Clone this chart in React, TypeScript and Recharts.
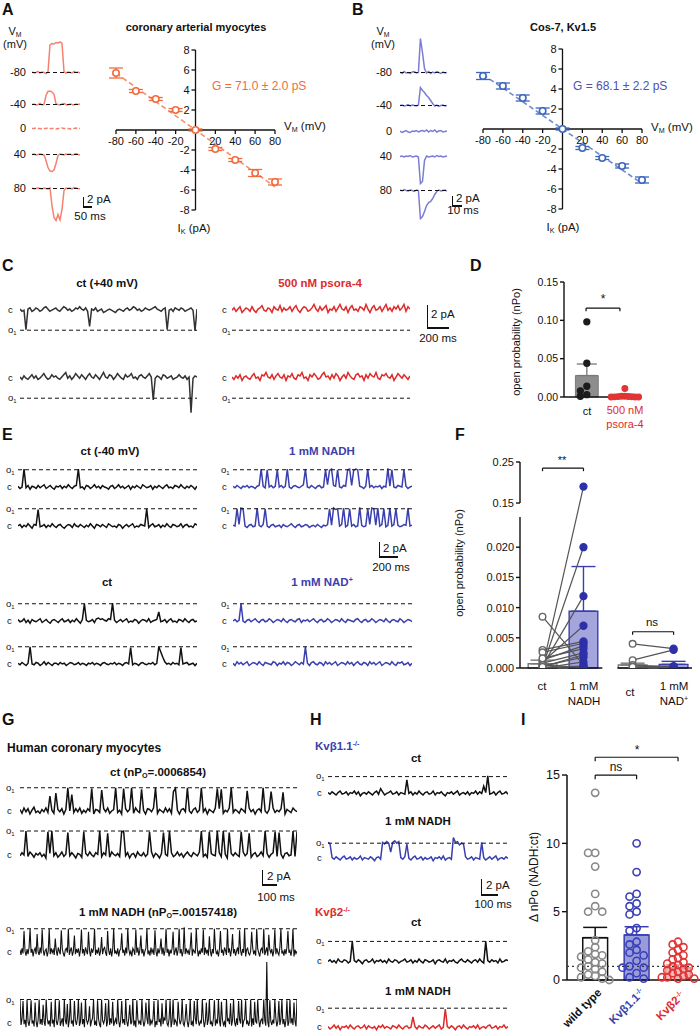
import React from 'react';
import {
  LineChart, Line, ScatterChart, Scatter, ComposedChart, XAxis, YAxis,
  ReferenceLine, ReferenceArea, ErrorBar,
} from 'recharts';

const FONT = '"Liberation Sans", Arial, Helvetica, sans-serif';

// ---------- A / B : unitary I-V relations ----------
const ivVolts = [-80, -60, -40, -20, 0, 20, 40, 60, 80];
const ivCoronary = [5.7, 3.9, 3.1, 2.0, 0, -1.9, -3.0, -4.3, -5.2];
const ivCoronaryErr = [0.5, 0.15, 0.15, 0.15, 0.1, 0.15, 0.15, 0.35, 0.3];
const ivCos7 = [5.3, 4.3, 3.1, 1.8, 0, -1.9, -2.9, -3.7, -5.1];
const ivCos7Err = [0.35, 0.3, 0.3, 0.3, 0.1, 0.15, 0.15, 0.2, 0.3];
const gCoronary = 71.0;
const gCos7 = 68.1;
const ivXTicks = [-80, -60, -40, -20, 20, 40, 60, 80];
const ivYTicks = [8, 6, 4, 2, -2, -4, -6, -8];
const stepLabels = ['-80', '-40', '0', '40', '80'];

// single channel records, values in 0.1 pA
const aM80 = [1,-1,0,2,-1,1,0,-2,1,55,58,57,60,59,61,58,2,-1,1,0,-1,2,0,1,-1];
const aM40 = [0,1,-1,0,2,-1,0,18,26,27,25,21,1,0,-1,1,2,0,-1,1,0,-1,1,0,1];
const a0 = [0,0,1,0,0,-1,0,0,1,0,0,0,-1,0,0,1,0,0,0,-1,0,0,1,0,0];
const a40 = [0,1,-1,0,1,0,-1,-12,-26,-33,-34,-31,-18,-2,1,0,-1,1,0,1,-1,0,2,0,-1];
const a80 = [1,-1,0,1,0,-1,1,0,-1,1,-35,-58,-64,-52,-63,-42,-4,1,0,1,-1,2,1,0,-1];

const bM80 = [1,-2,2,-1,0,-2,1,2,-1,0,68,40,8,-1,2,-2,1,-1,2,0,-2,1,-1,0];
const bM40 = [0,1,-1,0,2,-1,1,0,-1,1,36,30,26,20,16,10,4,-1,1,-2,0,1,-1,0];
const b0 = [1,-2,0,2,-1,-2,1,0,2,-1,1,2,0,3,-1,2,0,3,-1,1,2,-1,0,1];
const b40 = [0,1,-1,1,0,2,-1,0,1,-1,-54,-50,-8,1,-1,0,1,-1,2,0,1,-1,0,1];
const b80 = [1,-1,2,0,-1,1,0,-2,1,0,-56,-52,-42,-30,-24,-22,-16,-8,-2,1,-1,0,1,-1];

// C
const cCt1 = [
  1,-1,0,-17,1,2,-1,0,2,1, -1,0,2,3,1,-1,0,1,2,0, -1,1,3,2,0,1,-1,0,2,1,
  3,1,0,2,-1,-14,1,0,2,-1, 0,1,-2,-1,0,1,0,-1,-2,0, 1,0,-1,1,2,0,1,3,2,0,
  1,-1,0,2,1,0,1,2,3,1, 0,-1,1,2,-17,0,1,-1,2,1, 0,2,1,-1,0,1,2,0,-18,1,
];
const cCt2 = [
  1,-1,2,0,-1,1,3,0,2,-1, 0,2,4,1,-1,0,3,1,2,0, -1,1,3,5,0,2,-1,1,4,2,
  0,3,1,-1,2,4,1,0,3,1, -1,2,5,1,0,3,2,-1,1,4, 2,0,-1,3,1,2,4,0,1,-1,
  2,3,1,0,2,4,1,-19,0,2, 1,-1,3,2,0,1,2,-1,0,1, 3,1,0,2,-1,1,-30,0,2,1,
];
const cPs1 = [
  0,2,-1,1,3,-2,0,2,1,-1, 3,0,-2,1,2,4,0,-1,2,1, -2,3,1,0,4,-1,2,0,1,3,
  -1,2,4,0,-2,1,3,2,-1,0, 2,5,1,-1,3,0,2,4,-2,1, 0,3,-1,2,5,1,0,3,-2,2,
  4,0,1,-1,3,2,0,5,1,-2, 2,4,0,1,3,-1,2,5,0,2, -1,3,1,4,0,2,5,-1,3,1,
];
const cPs2 = [
  1,-1,2,0,3,-2,1,2,0,-1, 2,4,0,1,-2,3,2,5,1,0, 3,-1,2,4,1,0,3,-2,2,1,
  4,0,-1,3,2,5,0,1,-2,3, 1,4,2,-1,0,3,5,1,2,-1, 3,0,4,2,-2,1,3,0,5,2,
  0,-1,3,4,1,2,-2,3,0,4, 2,1,5,0,-1,3,2,4,1,0, 3,-2,1,4,2,0,3,1,-1,2,
];

// E
const eCt1 = [
  1,-2,0,24,-1,2,-3,1,0,-2, 2,-1,1,3,-2,0,2,-1,-3,1, 0,2,-2,1,-1,3,0,-2,1,2,
  24,-1,0,-3,2,1,-2,0,3,-1, 1,-2,2,0,-1,-3,1,2,-2,0, 3,-1,1,-2,0,2,-3,1,-1,2,
  0,-2,3,1,-1,0,2,-3,1,-1, 2,0,-2,1,3,-1,0,-2,2,1, -1,3,0,-2,1,-1,2,0,-3,1,
];
const eCt2 = [
  0,2,-2,1,-1,3,0,-3,2,1, 22,-1,0,2,-2,1,-1,3,0,-2, 1,2,-1,-3,0,2,1,-2,3,0,
  -1,2,0,-2,1,-1,3,0,-3,2, 1,-1,2,0,-2,3,1,-1,0,-2, 2,1,-3,0,2,-1,1,3,-2,0,
  -1,2,1,0,23,-2,1,3,-1,0, 2,-2,1,-1,3,0,-2,2,1,-1, 0,3,-2,1,2,-1,0,-2,3,1,
];
const eNadh1 = [
  1,-1,2,0,-2,1,0,2,-1,1, 0,-2,1,2,24,1,-1,23,0,2, -1,1,23,0,2,-1,1,24,0,-2,
  1,2,0,-1,1,3,24,0,-1,2, 0,-2,1,2,-1,0,23,3,22,24, 2,1,23,0,-1,2,1,23,24,2,
  22,24,23,1,0,-2,1,24,0,2, -1,1,0,2,-2,1,0,25,1,23, 0,-1,2,1,0,23,1,-2,0,1,
];
const eNadh2 = [
  1,0,23,2,24,23,0,-2,1,2, -1,0,24,1,-1,2,23,0,-2,1, 2,-1,0,1,-2,2,0,-1,1,3,
  0,-2,1,2,-1,0,2,1,-2,0, 1,-1,2,0,-2,1,0,2,23,1, 24,22,23,0,2,24,-1,1,23,0,
  2,-1,0,25,1,-1,0,23,2,24, 23,1,24,0,2,23,-1,1,24,0, 2,23,1,-1,0,2,1,24,0,1,
];
const eCt3 = [
  2,-1,0,3,-2,1,-3,2,0,-1, 1,3,-2,0,2,-1,-3,1,2,0, -2,1,3,-1,0,2,-2,1,-1,3,
  0,-3,2,23,1,-1,0,2,-2,3, 4,2,3,1,0,3,2,24,1,-2, 0,2,-1,1,3,-2,0,-1,2,1,
  -3,0,2,1,-1,3,-2,0,1,2, 12,-1,0,2,-2,1,3,-1,0,-2, 2,1,-1,3,0,-2,1,2,-1,0,
];
const eCt4 = [
  1,-1,2,0,-2,1,23,0,-1,2, 1,-2,0,3,-1,2,0,-2,1,1, -1,2,0,1,-2,0,2,1,-1,0,
  2,-1,1,0,-2,1,0,2,-1,1, 0,-2,1,2,0,-1,1,0,2,-1, 1,0,-2,1,2,0,22,-1,1,0,
  -2,1,2,0,-1,1,0,2,-1,1, 23,16,9,3,0,1,-1,2,0,1, -1,22,0,1,2,-1,0,1,-2,1,
];
const eNad1 = [
  0,2,-1,1,23,0,-2,1,2,-1, 1,3,0,-2,1,2,-1,0,3,1, -2,0,2,1,-1,3,0,-2,1,2,
  0,-1,2,3,-2,1,0,2,-1,1, 3,0,-2,1,2,-1,0,3,1,-2, 0,2,1,-1,3,0,-2,2,1,0,
  -1,2,3,0,-2,1,2,-1,0,3, 1,-2,0,2,1,-1,3,0,-2,1, 2,0,-1,3,1,-2,0,2,1,-1,
];
const eNad2 = [
  1,-2,3,0,2,-1,1,3,-2,0, 2,1,-1,3,0,-2,2,1,0,-1, 3,2,-2,1,0,3,-1,2,1,-2,
  0,3,1,-1,2,0,23,1,-2,2, 3,0,-1,2,1,-2,3,0,2,-1, 1,3,-2,0,2,1,-1,3,0,2,
  -2,1,3,0,-1,2,1,-2,3,0, 2,-1,1,3,-2,0,2,1,-1,3, 0,-2,2,1,3,-1,0,2,-2,1,
];

// G
const gCt1 = [
  2,-3,4,-1,3,-4,1,5,-2,0, -3,2,-1,4,-2,20,1,-3,24,2, -1,3,-4,2,31,0,22,-2,3,-1,
  4,-3,1,-2,3,0,30,-4,2,1, -2,28,3,-1,4,-3,0,2,31,-2, 1,-4,30,3,-1,2,31,-3,4,0,
  -2,29,1,-4,3,2,-1,4,31,-3, 2,0,-2,4,-1,3,-3,26,30,1, -4,2,3,-1,31,0,-3,2,4,-2,
  1,31,-1,3,-4,2,0,-2,4,30, 3,29,-3,1,-1,4,31,-2,2,0, -3,3,1,-2,27,4,-1,2,-4,1,
  3,-1,31,0,-3,2,26,4,-2,1, -1,3,25,-4,2,0,-2,4,1,-1,
];
const gCt2 = [
  -1,3,0,32,-2,4,1,-3,2,0, 3,-2,1,-4,31,2,32,-1,3,-3, 0,4,-2,1,30,-1,3,0,-4,2,
  1,-3,31,2,-1,4,0,-2,3,1, 32,-2,3,0,29,-3,4,1,-1,2, -2,31,32,-1,3,-4,1,2,-3,4,
  0,-1,3,-2,1,31,4,-3,2,0, -4,2,30,1,-1,32,3,-2,0,4, -1,2,-3,1,4,0,-2,3,1,-1,
  4,32,-2,1,-3,31,2,0,-1,32, 3,-2,32,1,-4,30,2,-1,3,0, -2,31,4,-1,2,29,-3,1,3,-2,
  0,4,-1,32,2,-3,1,3,31,-2, 30,1,-4,2,3,-1,0,32,-2,31,
];
// NADH records sampled twice as finely
const gNadh1 = [
  3,-4,5,-2,28,1,-5,4,-3,6,31,-1, 4,-6,2,5,-3,24,0,-4,6,-2,30,3,
  -5,2,4,-6,1,31,-3,5,-1,3,-4,18, 2,-5,6,1,-3,29,4,-2,-6,3,5,-1,
  31,-4,2,6,-5,1,22,-3,4,-1,5,-6, 3,30,-2,4,-5,6,1,-3,27,2,-6,5,
  -1,4,31,-4,3,-2,6,-5,1,20,-3,4, 6,-1,-5,28,2,-4,5,-6,3,31,-2,1,
  -3,5,-6,2,4,25,-1,3,-5,6,-2,31, 4,-3,1,-6,5,2,-4,30,-1,6,-5,3,
  22,-2,4,-6,1,5,31,-3,2,-5,6,-1, 3,-4,29,1,-6,5,-2,4,18,-3,6,-5,
  2,31,-1,4,-6,3,-2,5,27,-4,1,6, -5,3,31,-2,4,-6,1,33,-3,5,-1,2,
  -4,6,26,-5,3,1,-2,31,4,-6,2,-3, 5,-1,30,-4,6,-2,3,-5,21,1,-6,4,
  -2,31,5,-3,1,-6,4,28,-1,3,-5,6, 2,-4,31,-1,5,-6,3,24,-2,4,-5,1,
  6,-3,29,2,-5,4,-1,31,-6,3,5,-2, -4,1,27,6,-3,2,-5,31,4,-1,-6,3,
  5,-2,31,-4,1,6,-5,23,3,-1,4,-6, 2,30,-3,5,-1,-4,6,31,-2,1,-5,4,
  -3,6,28,-1,2,-5,4,31,-6,3,-2,1,
];
const gNadh2 = [
  31,-3,5,29,-2,4,-6,31,1,-4,6,30, -1,3,-5,27,2,-6,4,31,-2,5,-3,24,
  1,-4,31,6,-2,3,-5,28,-1,4,-6,31, 2,-3,5,30,-4,1,6,-5,31,3,-2,25,
  -6,4,31,-1,2,-5,29,3,-3,6,31,-4, 1,27,-2,5,-6,31,4,-1,3,22,-5,2,
  6,31,-3,1,-4,30,5,-2,-6,31,3,-1, 4,26,-5,2,31,-3,6,-1,28,-4,1,5,
  -2,31,3,-6,4,29,-1,5,-3,31,2,-5, 6,24,-2,1,31,-4,3,-6,30,5,-1,2,
  -3,31,4,-5,1,27,6,-2,31,-4,3,-1, 5,29,-6,2,-3,31,1,4,-5,26,-2,6,
  3,31,-1,-4,5,30,-6,2,31,-3,4,1, -5,28,6,-2,3,31,-1,-4,5,25,2,-6,
  4,31,-3,1,-5,29,6,-2,31,3,-4,2, -1,31,5,-6,2,27,-3,4,31,-2,1,-5,
  6,30,-4,3,-1,31,2,-5,28,4,-3,1, -6,31,2,5,-2,26,-4,3,31,1,-5,6,
  -3,29,4,-1,31,-6,2,5,30,-2,3,-4, 1,31,-5,6,-3,28,2,-1,31,4,-6,3,
  5,-2,31,3,-4,81,1,-6,30,2,-3,4, -1,31,6,-5,2,29,-3,4,31,-2,5,-6,
  3,30,-4,1,31,-1,6,-3,27,2,-5,31,
];

// H
const hKv11Ct = [
  1,-1,2,0,-2,1,3,-1,0,2, -2,1,0,3,-1,2,-3,0,1,-1, 2,0,-2,1,3,-1,6,2,-2,0,
  1,3,-1,0,2,-2,1,0,-1,17, 0,2,-2,1,-1,3,0,-2,1,2, -1,0,3,-2,1,0,2,-1,-3,1,
  0,2,-1,1,3,-2,0,1,-1,2, -2,1,0,3,-1,2,0,9,1,22, -1,0,2,-2,1,3,-1,0,2,-1,
];
const hKv11Nadh = [
  20,18,1,-1,2,0,-2,1,3,-1, 0,2,-2,1,-1,0,3,-2,1,0, -1,2,0,-3,1,2,-1,20,18,21,
  19,8,20,22,19,21,1,-1,2,18, 0,-2,1,3,-1,0,2,-2,1,-1, 0,2,-3,1,0,2,-1,3,-2,0,
  1,-1,26,20,21,17,19,18,2,-1, 0,2,-2,1,0,-1,20,1,-2,0, 2,-1,1,3,-2,0,1,-1,2,0,
];
const hKv2Ct = [
  0,2,-1,1,-2,3,0,-1,2,1, -2,0,25,1,-1,2,0,-3,1,2, -1,0,3,-2,1,0,2,-1,1,-2,
  3,0,-1,2,1,-2,0,1,3,-1, 0,2,-2,1,-1,3,0,-2,2,1, -1,0,2,-3,1,2,0,-1,3,-2,
  1,0,2,-1,-2,1,3,0,-1,2, 0,-2,1,2,-1,3,0,-2,25,1, -1,2,0,1,-2,3,-1,0,2,1,
];
const hKv2Nadh = [
  1,-2,0,3,-1,2,-3,1,0,2, -1,3,0,-2,1,2,-1,0,3,-2, 2,0,-1,1,-3,2,0,3,-1,1,
  0,-2,2,1,-1,3,0,-2,1,2, -1,0,13,1,-2,2,0,-1,3,1, -2,0,2,-1,1,3,-2,0,23,1,
  -1,2,0,-3,1,2,-1,3,0,-2, 1,0,2,-1,3,-2,0,1,-1,2, 3,-1,0,2,-2,1,0,3,-1,1,
];

// D : open probability, psora-4
const dMeans = [0.028, 0.001];
const dSem = [0.015, 0.0005];
const dCt = [0.098, 0.044, 0.014, 0.008, 0.003, 0.001];
const dPsora = [0.011, 0.001, 0.001, 0.0007, 0.0005, 0.0003, 0.0002, 0, 0, 0];
const dTicks = [0, 0.05, 0.1, 0.15];

// F : paired open probability
const fNadhCt = [0.0001, 0.0002, 0.0004, 0.001, 0.003, 0.0026, 0.0013, 0.0008, 0.0003, 0, 0.0085, 0.0001, 0.0005, 0, 0.0016, 0.0002];
const fNadh = [0.19, 0.02, 0.0119, 0.007, 0.0044, 0.0041, 0.0037, 0.0025, 0.0018, 0.001, 0.0005, 0.0003, 0.0001, 0, 0.0032, 0.0022];
const fNadCt = [0.004, 0.0013, 0.0005, 0, 0.0001, 0.0002];
const fNad = [0.0032, 0.003, 0.0002, 0, 0.0001, 0.0003];
const fMeans = [0.0007, 0.0094, 0.0005, 0.0006];
const fSem = [0.0006, 0.0074, 0.0003, 0.0005];
const fTicks = [0, 0.005, 0.01, 0.015, 0.02, 0.025, 0.15, 0.25];

// I : fold change NADH:ct
const iWt = [13.7, 9.3, 9.3, 8.3, 6.3, 5.4, 5.0, 5.0, 2.9, 2.4, 2.1, 1.9, 1.8, 1.7, 1.5, 1.3, 1.2, 1.0, 0.9, 0.8, 0.6, 0.4, 0.3, 0.2, 0.1, 0.0];
const iKv11 = [10.0, 7.9, 6.3, 6.1, 5.6, 5.4, 5.0, 4.8, 3.8, 3.6, 2.8, 2.6, 2.2, 2.0, 1.8, 1.4, 1.0, 0.9, 0.9, 0.5, 0.2, 0.1];
const iKv2 = [2.8, 2.6, 2.4, 2.2, 2.0, 1.8, 1.6, 1.5, 1.3, 1.2, 1.1, 1.0, 0.9, 0.8, 0.7, 0.6, 0.5, 0.4, 0.3, 0.2, 0.2, 0.1, 0.1];
const iMeans = [3.1, 3.3, 0.9];
const iSem = [0.75, 0.6, 0.2];
const iTicks = [0, 5, 10, 15];

const ORANGE = '#f26b3d';
const SALMON = '#f5826f';
const BLUE = '#3a3fae';
const IVBLUE = '#3d66bd';
const LAVENDER = '#7b7dd2';
const RED = '#dd2b2b';

// greedy beeswarm placement for dot plots
function swarm(vals: number[], center: number, step: number, thr: number) {
  const slots = [0, -1, 1, -2, 2, -3, 3, -4, 4, -5, 5];
  const placed: { x: number; y: number; s: number }[] = [];
  vals.forEach((v) => {
    const s = slots.find((o) => !placed.some((p) => p.s === o && Math.abs(p.y - v) < thr)) ?? 0;
    placed.push({ x: center + s * step, y: v, s });
  });
  return placed;
}

const Sub = ({ children }: any) => (
  <span style={{ fontSize: '0.62em', position: 'relative', top: '0.35em' }}>{children}</span>
);
const Sup = ({ children }: any) => (
  <span style={{ fontSize: '0.62em', position: 'relative', top: '-0.5em' }}>{children}</span>
);

function T({ x, y, s = 11, b = false, c = '#111', a = 'l', children }: any) {
  const tx = a === 'c' ? '-50%' : a === 'r' ? '-100%' : '0';
  return (
    <div style={{ position: 'absolute', left: x, top: y, transform: `translate(${tx}, -50%)`, fontSize: s, fontWeight: b ? 700 : 400, color: c, whiteSpace: 'nowrap', lineHeight: 1 }}>
      {children}
    </div>
  );
}

function VLabel({ x, y, s = 11, children }: any) {
  return (
    <div style={{ position: 'absolute', left: x, top: y, transform: 'translate(-50%, -50%) rotate(-90deg)', fontSize: s, whiteSpace: 'nowrap', lineHeight: 1 }}>
      {children}
    </div>
  );
}

function ScaleBar({ x, y, h, w }: any) {
  return (
    <>
      <div style={{ position: 'absolute', left: x, top: y - h, width: 1.3, height: h, background: '#111' }} />
      <div style={{ position: 'absolute', left: x, top: y - 0.6, width: w, height: 1.3, background: '#111' }} />
    </>
  );
}

const O1 = ({ x, y }: any) => <T x={x} y={y} s={9.5}>o<Sub>1</Sub></T>;
const C = ({ x, y }: any) => <T x={x} y={y} s={9.5}>c</T>;

function Trace({ data, x, cy, w, k, lo, hi, color, open, sw = 1.2, dash, openColor = '#111' }: any) {
  const rows = data.map((v: number, i: number) => ({ i, v }));
  return (
    <div style={{ position: 'absolute', left: x, top: cy - hi * k }}>
      <LineChart width={w} height={(hi - lo) * k} data={rows} margin={{ top: 0, right: 0, bottom: 0, left: 0 }}>
        <XAxis dataKey="i" type="number" domain={[0, data.length - 1]} hide />
        <YAxis type="number" domain={[lo, hi]} hide allowDataOverflow />
        <Line type="linear" dataKey="v" stroke={color} strokeWidth={sw} dot={false} strokeDasharray={dash} isAnimationActive={false} />
        {open !== undefined && <ReferenceLine y={open} stroke={openColor} strokeDasharray="4 3" strokeWidth={1} />}
      </LineChart>
    </div>
  );
}

const XTick = (p: any) => (
  <g>
    <line x1={p.cx} y1={p.cy} x2={p.cx} y2={p.cy + 4} stroke="#111" strokeWidth={1.3} />
    <text x={p.cx} y={p.cy + 15} textAnchor="middle" fontSize={11} fill="#111">{p.payload.t}</text>
  </g>
);
const YTick = (p: any) => (
  <g>
    <line x1={p.cx - 4} y1={p.cy} x2={p.cx} y2={p.cy} stroke="#111" strokeWidth={1.3} />
    <text x={p.cx - 6} y={p.cy + 4} textAnchor="end" fontSize={11} fill="#111">{p.payload.t}</text>
  </g>
);

function IVPlot({ left, top, cur, err, color, g }: any) {
  const pts = ivVolts.map((v, n) => ({ x: v, y: cur[n], e: err[n] }));
  const xt = ivXTicks.map((t) => ({ x: t, y: 0, t }));
  const yt = ivYTicks.map((t) => ({ x: 0, y: t, t }));
  const s = g / 1000;
  return (
    <div style={{ position: 'absolute', left, top }}>
      <ScatterChart width={190} height={180} margin={{ top: 10, right: 15, bottom: 10, left: 16 }}>
        <XAxis type="number" dataKey="x" domain={[-80, 80]} hide />
        <YAxis type="number" dataKey="y" domain={[-8, 8]} hide />
        <ReferenceLine x={0} stroke="#111" strokeWidth={1.3} />
        <ReferenceLine y={0} stroke="#111" strokeWidth={1.3} />
        <ReferenceLine segment={[{ x: -80, y: 80 * s }, { x: 80, y: -80 * s }]} stroke={color} strokeOpacity={0.75} strokeDasharray="5 3" strokeWidth={1.6} />
        <Scatter data={xt} shape={XTick} isAnimationActive={false} />
        <Scatter data={yt} shape={YTick} isAnimationActive={false} />
        <Scatter data={pts} isAnimationActive={false}
          shape={(p: any) => <circle cx={p.cx} cy={p.cy} r={3.2} fill="#fff" stroke={color} strokeWidth={1.6} />}>
          <ErrorBar dataKey="e" direction="y" stroke={color} width={7} strokeWidth={1.3} />
        </Scatter>
      </ScatterChart>
    </div>
  );
}

const dot = (fill: string, r: number, stroke?: string, sw = 1.3) => (p: any) => (
  <circle cx={p.cx} cy={p.cy} r={r} fill={fill} stroke={stroke ?? fill} strokeWidth={sw} />
);
const none = () => <g />;

function bracket(x1: number, x2: number, y: number, d: number, key: string) {
  const st = { stroke: '#111', strokeWidth: 1.2, ifOverflow: 'visible' as const };
  return [
    <ReferenceLine key={key + 'h'} segment={[{ x: x1, y }, { x: x2, y }]} {...st} />,
    <ReferenceLine key={key + 'a'} segment={[{ x: x1, y }, { x: x1, y: y - d }]} {...st} />,
    <ReferenceLine key={key + 'b'} segment={[{ x: x2, y }, { x: x2, y: y - d }]} {...st} />,
  ];
}

const axisProps = (fs: number) => ({
  axisLine: { stroke: '#111', strokeWidth: 1.4 },
  tickLine: { stroke: '#111', strokeWidth: 1.4 },
  tick: { fontSize: fs, fill: '#111' },
  tickSize: 4,
  tickMargin: 2,
});

function PanelD() {
  const ct = swarm(dCt, 1, 0.17, 0.007);
  const ps = swarm(dPsora, 2, 0.09, 0.003);
  return (
    <div style={{ position: 'absolute', left: 500, top: 270 }}>
      <ComposedChart width={150} height={160} margin={{ top: 12, right: 8, bottom: 33, left: 0 }}>
        <XAxis type="number" dataKey="x" domain={[0.4, 2.45]} hide />
        <YAxis type="number" dataKey="y" domain={[0, 0.15]} ticks={dTicks} tickFormatter={(v: number) => v.toFixed(2)} width={64} {...axisProps(10.5)} />
        <ReferenceArea x1={0.7} x2={1.3} y1={0} y2={dMeans[0]} fill="#8d8d8d" fillOpacity={1} stroke="#7a7a7a" />
        <ReferenceArea x1={1.7} x2={2.3} y1={0} y2={dMeans[1]} fill="#f2a3a3" fillOpacity={1} stroke={RED} />
        <ReferenceLine y={0} stroke="#111" strokeWidth={1.4} />
        <Scatter data={[{ x: 1, y: dMeans[0], e: [0, dSem[0]] }]} shape={none} isAnimationActive={false}>
          <ErrorBar dataKey="e" direction="y" width={10} stroke="#777" strokeWidth={1.3} />
        </Scatter>
        <Scatter data={ct} shape={dot('#1c1c1c', 3)} isAnimationActive={false} />
        <Scatter data={ps} shape={dot('#e03535', 2.8)} isAnimationActive={false} />
        {bracket(0.98, 1.87, 0.116, 0.004, 'd')}
      </ComposedChart>
    </div>
  );
}

// broken y axis for F: values above the break are compressed
const brk = (v: number) => (v <= 0.025 ? v : 0.02732 + (v - 0.15) * 0.0679);
const fSlots = [1, 2, 3.2, 4.2];

function PanelF() {
  const fmt = (v: number) => {
    const t = fTicks.find((q) => Math.abs(brk(q) - v) < 1e-6) ?? v;
    return t > 0.1 ? t.toFixed(2) : t.toFixed(3);
  };
  const pairs = [
    ...fNadhCt.map((c, n) => [{ x: fSlots[0], y: brk(c) }, { x: fSlots[1], y: brk(fNadh[n]) }]),
    ...fNadCt.map((c, n) => [{ x: fSlots[2], y: brk(c) }, { x: fSlots[3], y: brk(fNad[n]) }]),
  ];
  const ctPts = [...fNadhCt.map((c) => ({ x: fSlots[0], y: brk(c) })), ...fNadCt.map((c) => ({ x: fSlots[2], y: brk(c) }))];
  const trPts = [...fNadh.map((c) => ({ x: fSlots[1], y: brk(c) })), ...fNad.map((c) => ({ x: fSlots[3], y: brk(c) }))];
  const ax = { stroke: '#111', strokeWidth: 1.4 };
  return (
    <div style={{ position: 'absolute', left: 470, top: 450 }}>
      <ComposedChart width={230} height={230} margin={{ top: 12, right: 8, bottom: 12, left: 0 }}>
        <XAxis type="number" dataKey="x" domain={[0.45, 4.65]} hide />
        <YAxis type="number" dataKey="y" domain={[0, brk(0.25)]} ticks={fTicks.map(brk)} tickFormatter={fmt} width={50} allowDataOverflow {...axisProps(11)} axisLine={false} />
        <ReferenceLine segment={[{ x: 0.45, y: 0 }, { x: 0.45, y: 0.025 }]} {...ax} />
        <ReferenceLine segment={[{ x: 0.45, y: brk(0.15) }, { x: 0.45, y: brk(0.25) }]} {...ax} />
        <ReferenceLine segment={[{ x: 0.45, y: 0 }, { x: 2.46, y: 0 }]} {...ax} />
        <ReferenceLine segment={[{ x: 2.83, y: 0 }, { x: 4.65, y: 0 }]} {...ax} />
        {fSlots.map((c, n) => (
          <ReferenceArea key={'fb' + n} x1={c - 0.35} x2={c + 0.35} y1={0} y2={fMeans[n]}
            fill={n % 2 ? '#a3a5dc' : '#fff'} fillOpacity={1} stroke={n % 2 ? BLUE : '#777'} strokeWidth={1.4} />
        ))}
        {pairs.map((p, n) => (
          <Scatter key={'fp' + n} data={p} line={{ stroke: '#555', strokeWidth: 1.2 }} shape={none} isAnimationActive={false} />
        ))}
        {fSlots.map((c, n) => (
          <Scatter key={'fe' + n} data={[{ x: c, y: fMeans[n], e: [0, fSem[n]] }]} shape={none} isAnimationActive={false}>
            <ErrorBar dataKey="e" direction="y" width={12} stroke={n % 2 ? BLUE : '#777'} strokeWidth={1.4} />
          </Scatter>
        ))}
        <Scatter data={ctPts} shape={dot('#fff', 3.3, '#666', 1.4)} isAnimationActive={false} />
        <Scatter data={trPts} shape={dot('#2e30a8', 3.5)} isAnimationActive={false} />
        {bracket(1, 2, brk(0.235), 0.0005, 'f1')}
        {bracket(3.2, 4.2, 0.006, 0.0005, 'f2')}
      </ComposedChart>
    </div>
  );
}

function PanelI() {
  const groups = [
    { vals: iWt, color: '#888', bar: '#fff', edge: '#111', step: 0.17, thr: 0.5 },
    { vals: iKv11, color: '#3a3fb8', bar: '#8e91d8', edge: BLUE, step: 0.17, thr: 0.5 },
    { vals: iKv2, color: '#e03535', bar: '#f4b2b2', edge: '#f08c8c', step: 0.13, thr: 0.42 },
  ];
  const ax = { stroke: '#111', strokeWidth: 1.5 };
  return (
    <div style={{ position: 'absolute', left: 510, top: 740 }}>
      <ComposedChart width={190} height={250} margin={{ top: 7.7, right: 0, bottom: 10, left: 0 }}>
        <XAxis type="number" dataKey="x" domain={[0.32, 3.53]} hide />
        <YAxis type="number" dataKey="y" domain={[0, 17]} ticks={iTicks} width={57} {...axisProps(12.5)} axisLine={false} tickSize={5} />
        <ReferenceLine segment={[{ x: 0.32, y: 0 }, { x: 0.32, y: 15 }]} {...ax} />
        {groups.map((g, n) => (
          <ReferenceArea key={'ib' + n} x1={n + 0.7} x2={n + 1.3} y1={0} y2={iMeans[n]} fill={g.bar} fillOpacity={n === 0 ? 0 : 0.9} stroke={g.edge} strokeWidth={1.5} />
        ))}
        <ReferenceLine y={1} stroke="#333" strokeDasharray="2 3" strokeWidth={1.3} />
        <ReferenceLine y={0} {...ax} />
        {groups.map((g, n) => (
          <Scatter key={'ie' + n} data={[{ x: n + 1, y: iMeans[n], e: [0, iSem[n]] }]} shape={none} isAnimationActive={false}>
            <ErrorBar dataKey="e" direction="y" width={12} stroke={g.edge} strokeWidth={1.5} />
          </Scatter>
        ))}
        {groups.map((g, n) => (
          <Scatter key={'is' + n} data={swarm(g.vals, n + 1, g.step, g.thr)} shape={dot('none', 3.6, g.color, 1.6)} isAnimationActive={false} />
        ))}
        {bracket(1, 2, 15, 0.3, 'i1')}
        {bracket(1, 3, 16.3, 0.3, 'i2')}
      </ComposedChart>
    </div>
  );
}

export default function App() {
  const A = { k: 0.5, lo: -70, hi: 65, w: 48, x: 32 };
  const B = { k: 0.5, lo: -70, hi: 75, w: 47, x: 400 };
  const aY = [72, 104, 128, 154, 188];
  const bY = [72, 105, 131, 156, 190];
  const aTr = [aM80, aM40, a0, a40, a80];
  const bTr = [bM80, bM40, b0, b40, b80];
  const Ck = { k: 1.15, lo: -32, hi: 8 };
  const Ek = { k: 0.75, lo: -8, hi: 28 };
  const Gk = { k: 0.75, lo: -10, hi: 36 };
  const Hk = { k: 0.8, lo: -8, hi: 28, x: 328, w: 180 };
  return (
    <div style={{ position: 'absolute', left: 0, top: 0, width: 700, height: 1033, background: '#fff', fontFamily: FONT, color: '#111', overflow: 'hidden' }}>
      {/* A */}
      <T x={2} y={10} s={16} b>A</T>
      <T x={15} y={31} s={11} a="c">V<Sub>M</Sub></T>
      <T x={15} y={44} s={11} a="c">(mV)</T>
      {aTr.map((d, n) => (
        <React.Fragment key={'a' + n}>
          <T x={26} y={aY[n]} s={11} a="r">{stepLabels[n]}</T>
          <Trace data={d} x={A.x} cy={aY[n]} w={A.w} k={A.k} lo={A.lo} hi={A.hi} color={SALMON} sw={1.5}
            dash={n === 2 ? '4 2' : undefined} open={n === 2 ? undefined : 0} />
        </React.Fragment>
      ))}
      <ScaleBar x={83} y={207} h={10} w={9} />
      <T x={87} y={200} s={11.5}>2 pA</T>
      <T x={90} y={217} s={11.5} a="c">50 ms</T>
      <T x={196} y={27} s={11} b a="c">coronary arterial myocytes</T>
      <IVPlot left={100} top={40} cur={ivCoronary} err={ivCoronaryErr} color={ORANGE} g={gCoronary} />
      <T x={212} y={86} s={12} c={ORANGE}>G = {gCoronary.toFixed(1)} ± 2.0 pS</T>
      <T x={284} y={127} s={11.5}>V<Sub>M</Sub> (mV)</T>
      <T x={194} y={229} s={11.5} a="c">I<Sub>K</Sub> (pA)</T>

      {/* B */}
      <T x={352} y={10} s={16} b>B</T>
      <T x={383} y={31} s={11} a="c">V<Sub>M</Sub></T>
      <T x={383} y={44} s={11} a="c">(mV)</T>
      {bTr.map((d, n) => (
        <React.Fragment key={'b' + n}>
          <T x={392} y={bY[n]} s={11} a="r">{stepLabels[n]}</T>
          <Trace data={d} x={B.x} cy={bY[n]} w={B.w} k={B.k} lo={B.lo} hi={B.hi} color={LAVENDER} sw={1.5}
            open={n === 0 || n === 1 || n === 4 ? 0 : undefined} />
        </React.Fragment>
      ))}
      <ScaleBar x={452} y={206} h={10} w={10} />
      <T x={456} y={199} s={11.5}>2 pA</T>
      <T x={463} y={211} s={11.5} a="c">10 ms</T>
      <T x={563} y={27} s={11} b a="c">Cos-7, Kv1.5</T>
      <IVPlot left={467} top={39} cur={ivCos7} err={ivCos7Err} color={IVBLUE} g={gCos7} />
      <T x={573} y={86} s={12} c="#4d50b4">G = {gCos7.toFixed(1)} ± 2.2 pS</T>
      <T x={651} y={128} s={11.5}>V<Sub>M</Sub> (mV)</T>
      <T x={563} y={228} s={11.5} a="c">I<Sub>K</Sub> (pA)</T>

      {/* C */}
      <T x={2} y={266} s={16} b>C</T>
      <T x={107} y={284} s={11.5} b a="c">ct (+40 mV)</T>
      <T x={320} y={284} s={11.5} b a="c" c={RED}>500 nM psora-4</T>
      {[310, 378].map((cy, n) => (
        <React.Fragment key={'c' + n}>
          <C x={8} y={cy} /><O1 x={8} y={cy + 20} />
          <C x={222} y={cy} /><O1 x={222} y={cy + 20} />
          <Trace data={n ? cCt2 : cCt1} x={20} cy={cy} w={177} {...Ck} color="#333" open={-17.4} sw={1.5} />
          <Trace data={n ? cPs2 : cPs1} x={232} cy={cy} w={178} {...Ck} color={RED} open={-17.4} sw={1.5} />
        </React.Fragment>
      ))}
      <ScaleBar x={427} y={328} h={23} w={22} />
      <T x={431} y={315} s={11.5}>2 pA</T>
      <T x={438} y={339} s={11.5} a="c">200 ms</T>

      {/* D */}
      <T x={470} y={266} s={16} b>D</T>
      <VLabel x={516} y={342} s={11}>open probability (nPo)</VLabel>
      <PanelD />
      <T x={603} y={299} s={12} a="c">*</T>
      <T x={587} y={411} s={11} a="c">ct</T>
      <T x={625} y={410} s={11} a="c" c={RED}>500 nM</T>
      <T x={625} y={424} s={11} a="c" c={RED}>psora-4</T>

      {/* E */}
      <T x={2} y={435} s={16} b>E</T>
      <T x={110} y={452} s={11.5} b a="c">ct (-40 mV)</T>
      <T x={322} y={452} s={11.5} b a="c" c={BLUE}>1 mM NADH</T>
      {[
        [eCt1, eNadh1, 487], [eCt2, eNadh2, 526], [eCt3, eNad1, 621], [eCt4, eNad2, 664],
      ].map(([l, r, cy]: any, n) => (
        <React.Fragment key={'e' + n}>
          <O1 x={6} y={cy - 17} /><C x={7} y={cy} />
          <O1 x={221} y={cy - 17} /><C x={222} y={cy} />
          <Trace data={l} x={18} cy={cy} w={179} {...Ek} color="#111" open={23} sw={1.5} />
          <Trace data={r} x={233} cy={cy} w={179} {...Ek} color={BLUE} open={23} sw={1.5} />
        </React.Fragment>
      ))}
      <ScaleBar x={379} y={557} h={15} w={19} />
      <T x={383} y={549} s={11.5}>2 pA</T>
      <T x={391} y={568} s={11.5} a="c">200 ms</T>
      <T x={107} y={583} s={11.5} b a="c">ct</T>
      <T x={322} y={583} s={11.5} b a="c" c={BLUE}>1 mM NAD<Sup>+</Sup></T>

      {/* F */}
      <T x={455} y={435} s={16} b>F</T>
      <VLabel x={459} y={563} s={11}>open probability (nPo)</VLabel>
      <PanelF />
      <T x={562} y={460} s={11} a="c">**</T>
      <T x={652} y={623} s={11.5} a="c">ns</T>
      <T x={542} y={687} s={11.5} a="c">ct</T>
      <T x={584} y={687} s={11.5} a="c">1 mM</T>
      <T x={584} y={702} s={11.5} a="c">NADH</T>
      <T x={630} y={693} s={11.5} a="c">ct</T>
      <T x={674} y={687} s={11.5} a="c">1 mM</T>
      <T x={674} y={702} s={11.5} a="c">NAD<Sup>+</Sup></T>

      {/* G */}
      <T x={2} y={720} s={16} b>G</T>
      <T x={7} y={748} s={12} b>Human coronary myocytes</T>
      <T x={158} y={773} s={11.5} b a="c">ct (nP<Sub>O</Sub>=.0006854)</T>
      <T x={158} y={913} s={11.5} b a="c">1 mM NADH (nP<Sub>O</Sub>=.00157418)</T>
      {[
        [gCt1, 811, 31, 36, 1.5], [gCt2, 855, 32, 36, 1.5], [gNadh1, 952, 31, 36, 1.1], [gNadh2, 1023, 31, 85, 1.1],
      ].map(([d, cy, op, hi, sw]: any, n) => (
        <React.Fragment key={'g' + n}>
          <O1 x={6} y={cy - op * Gk.k} /><C x={7} y={cy} />
          <Trace data={d} x={20} cy={cy} w={277} k={Gk.k} lo={Gk.lo} hi={hi} color="#111" open={op} sw={sw} />
        </React.Fragment>
      ))}
      <ScaleBar x={262} y={885} h={15} w={15} />
      <T x={267} y={877} s={11.5}>2 pA</T>
      <T x={276} y={898} s={11.5} a="c">100 ms</T>

      {/* H */}
      <T x={310} y={720} s={16} b>H</T>
      <T x={315} y={747} s={11.5} b c={BLUE}>Kvβ1.1<Sup>-/-</Sup></T>
      <T x={416} y={759} s={11.5} b a="c">ct</T>
      <T x={418} y={822} s={11.5} b a="c">1 mM NADH</T>
      <T x={315} y={913} s={11.5} b c={RED}>Kvβ2<Sup>-/-</Sup></T>
      <T x={416} y={923} s={11.5} b a="c">ct</T>
      <T x={418} y={992} s={11.5} b a="c">1 mM NADH</T>
      {[
        [hKv11Ct, 793, 21, '#111'], [hKv11Nadh, 858, 19, BLUE], [hKv2Ct, 961, 25, '#111'], [hKv2Nadh, 1027, 24, RED],
      ].map(([d, cy, op, col]: any, n) => (
        <React.Fragment key={'h' + n}>
          <O1 x={316} y={cy - op * Hk.k} /><C x={317} y={cy} />
          <Trace data={d} x={Hk.x} cy={cy} w={Hk.w} k={Hk.k} lo={Hk.lo} hi={Hk.hi} color={col} open={op} sw={1.5} />
        </React.Fragment>
      ))}
      <ScaleBar x={481} y={895} h={16} w={17} />
      <T x={486} y={886} s={11.5}>2 pA</T>
      <T x={493} y={905} s={11.5} a="c">100 ms</T>

      {/* I */}
      <T x={521} y={720} s={16} b>I</T>
      <VLabel x={534} y={877} s={12}>Δ nPo (NADH:ct)</VLabel>
      <PanelI />
      <T x={616} y={767} s={12} a="c">ns</T>
      <T x={637} y={750} s={12} a="c">*</T>
      {[
        ['wild type', '#111', 600, 991, ''], ['Kvβ1.1', BLUE, 643, 991, '-/-'], ['Kvβ2', RED, 683, 994, '-/-'],
      ].map(([txt, col, x, y, sup]: any) => (
        <div key={txt} style={{ position: 'absolute', left: x, top: y, transform: 'translate(-100%, -50%) rotate(-45deg)', transformOrigin: '100% 50%', fontSize: 11.5, fontWeight: 700, color: col, whiteSpace: 'nowrap', lineHeight: 1 }}>
          {txt}{sup && <Sup>{sup}</Sup>}
        </div>
      ))}
    </div>
  );
}
